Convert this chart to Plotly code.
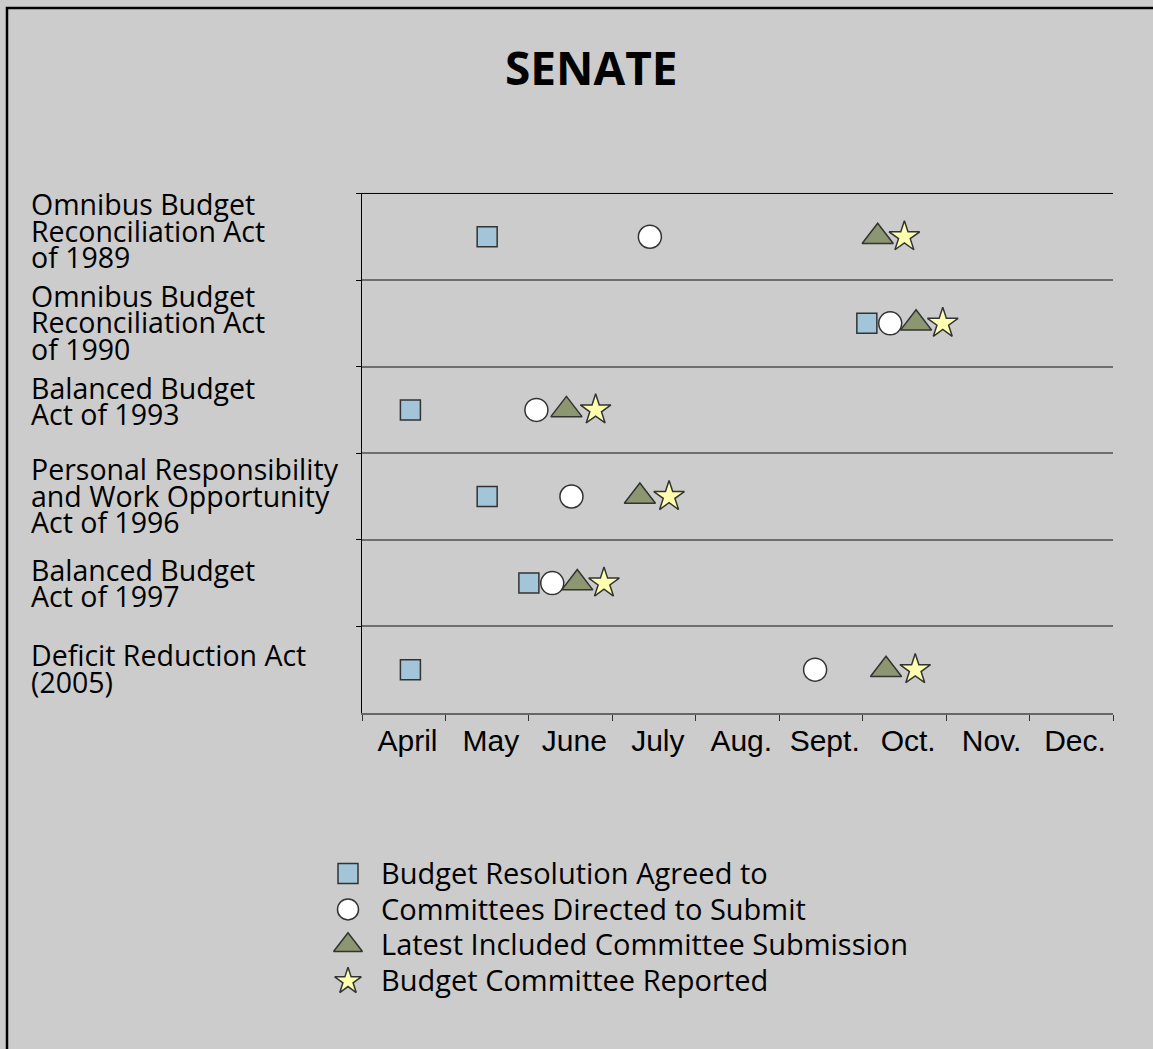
import plotly.graph_objects as go

W, H = 1153, 1049

months = ["April", "May", "June", "July", "Aug.", "Sept.", "Oct.", "Nov.", "Dec."]
acts = ["OBRA 1989", "OBRA 1990", "BBA 1993", "PRWORA 1996", "BBA 1997", "DRA 2005"]
act_label_lines = [
    ["Omnibus Budget", "Reconciliation Act", "of 1989"],
    ["Omnibus Budget", "Reconciliation Act", "of 1990"],
    ["Balanced Budget", "Act of 1993"],
    ["Personal Responsibility", "and Work Opportunity", "Act of 1996"],
    ["Balanced Budget", "Act of 1997"],
    ["Deficit Reduction Act", "(2005)"],
]
# positions in months after April 1
budget_resolution = [1.50, 6.05, 0.58, 1.50, 2.00, 0.58]
committees_directed = [3.45, 6.33, 2.09, 2.51, 2.28, 5.43]
latest_submission = [6.18, 6.64, 2.45, 3.33, 2.58, 6.28]
budget_reported = [6.50, 6.96, 2.80, 3.68, 2.90, 6.63]

series_names = ["Budget Resolution Agreed to", "Committees Directed to Submit",
                "Latest Included Committee Submission", "Budget Committee Reported"]
series_values = [budget_resolution, committees_directed, latest_submission, budget_reported]

# styling (layout only)
symbols = ["square", "circle", "triangle-up", "star"]
fills = ["#a2c5d9", "#ffffff", "#8c9670", "#ffffb0"]
sizes = [20, 23, 27, 23]
legend_sizes = [20, 21, 25, 20]
label_nudge_px = [6, 1, 9, 1, 0, 1]   # upward pixel nudge of each row label block

def px(x):
    return x / W

def py(y):
    return 1 - y / H

fig = go.Figure()
for name, vals, sym, col, sz in zip(series_names, series_values, symbols, fills, sizes):
    fig.add_trace(go.Scatter(
        x=vals, y=acts, mode="markers", name=name, showlegend=False,
        marker=dict(symbol=sym, size=sz, color=col, line=dict(color="#333333", width=1.5)),
        xaxis="x", yaxis="y", cliponaxis=False))

for name, sym, col, sz in zip(series_names, symbols, fills, legend_sizes):
    fig.add_trace(go.Scatter(
        x=[0], y=[name], mode="markers", showlegend=False,
        marker=dict(symbol=sym, size=sz, color=col, line=dict(color="#333333", width=1.5)),
        xaxis="x2", yaxis="y2", cliponaxis=False))

annotations = []
for act, lines, nudge in zip(acts, act_label_lines, label_nudge_px):
    n = len(lines)
    for j, line in enumerate(lines):
        annotations.append(dict(
            x=px(29), xref="paper", xanchor="left",
            y=act, yref="y", yanchor="middle",
            yshift=-(j - (n - 1) / 2) * 26.5 + nudge,
            text=line, showarrow=False,
            font=dict(family="Open Sans", size=28.5, color="black")))

annotations.append(dict(
    x=px(591), y=py(64), xref="paper", yref="paper", xanchor="center", yanchor="middle",
    text="<b>SENATE</b>", showarrow=False,
    font=dict(family="Open Sans", size=46, color="black")))

shapes = [
    dict(type="line", xref="x domain", yref="y domain", x0=0, x1=1, y0=1, y1=1,
         line=dict(color="black", width=1)),
    dict(type="rect", xref="paper", yref="paper", x0=px(7), x1=1.05, y0=-0.05, y1=py(5),
         line=dict(color="black", width=2.5)),
]

fig.update_layout(
    width=W, height=H,
    margin=dict(l=0, r=0, t=0, b=0),
    paper_bgcolor="#cccccc", plot_bgcolor="#cccccc",
    xaxis=dict(
        domain=[px(362), px(1113)], range=[0, 9],
        tickvals=[i + 0.545 for i in range(len(months))], ticktext=months,
        ticks="", showgrid=False, zeroline=False,
        showline=True, linecolor="#666666", linewidth=2,
        tickfont=dict(family="Liberation Sans", size=30, color="black"),
        ticklabelstandoff=0,
        minor=dict(tickvals=list(range(len(months) + 1)), ticks="outside", ticklen=6,
                   tickcolor="#333333", tickwidth=1, showgrid=False),
        fixedrange=True),
    yaxis=dict(
        domain=[py(712), py(191)], type="category", categoryarray=acts,
        range=[len(acts) - 0.5, -0.5], tickson="boundaries",
        ticks="outside", ticklen=5, tickcolor="black", tickwidth=1,
        showgrid=True, gridcolor="#6e6e6e", gridwidth=2,
        showticklabels=False, zeroline=False,
        showline=True, linecolor="black", linewidth=1, fixedrange=True),
    xaxis2=dict(domain=[px(330), px(366)], range=[-1, 1], visible=False, anchor="y2"),
    yaxis2=dict(
        domain=[py(999), py(855)], type="category", categoryarray=series_names,
        range=[len(series_names) - 0.5, -0.5], anchor="x2", side="right",
        showgrid=False, zeroline=False, showline=False, ticks="",
        ticklabelstandoff=14,
        tickfont=dict(family="Open Sans", size=29, color="black")),
    annotations=annotations,
    shapes=shapes,
)

fig.write_html("out.html", config={"displayModeBar": False},
               post_script="document.body.style.margin='0';document.body.style.background='#cccccc';")
